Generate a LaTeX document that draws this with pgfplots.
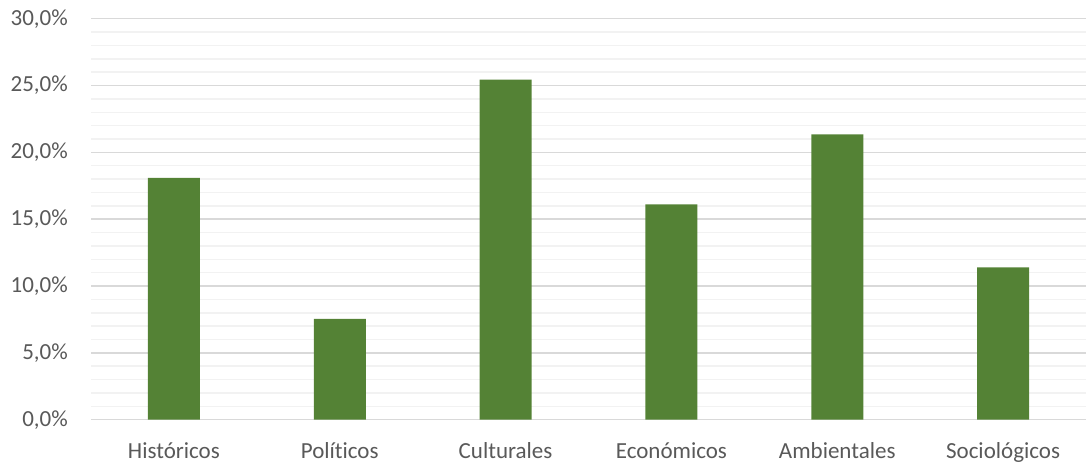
\documentclass[border=0pt]{standalone}
\usepackage{fontspec}
\setmainfont[Ligatures=NoCommon]{Carlito}
\usepackage{pgfplots}
\pgfplotsset{compat=1.18}
\definecolor{barg}{RGB}{84,130,53}
\definecolor{majg}{RGB}{217,217,217}
\definecolor{ming}{RGB}{242,242,242}
\definecolor{txt}{RGB}{89,89,89}
\begin{document}
\fontsize{23.1pt}{27pt}\selectfont
\begin{tikzpicture}[x=1bp,y=1bp]
\path[use as bounding box] (0,0) rectangle (1086,464);
\begin{axis}[
  at={(91bp,44.3bp)}, anchor=south west,
  scale only axis, width=995bp, height=401bp,
  xmin=-0.5, xmax=5.5, ymin=0, ymax=30,
  xtick={0,1,2,3,4,5},
  xticklabels={Históricos,Políticos,Culturales,Económicos,Ambientales,Sociológicos},
  ytick={0,5,10,15,20,25,30},
  yticklabels={{0,0\%},{5,0\%},{10,0\%},{15,0\%},{20,0\%},{25,0\%},{30,0\%}},
  minor ytick={1,2,3,4,6,7,8,9,11,12,13,14,16,17,18,19,21,22,23,24,26,27,28,29},
  ymajorgrids, yminorgrids,
  major grid style={draw=majg, line width=1.5bp},
  minor grid style={draw=ming, line width=1.5bp},
  axis line style={draw=none},
  major tick length=0pt, minor tick length=0pt,
  tick label style={text=txt, font=\fontsize{23.1pt}{27pt}\selectfont},
  yticklabel style={anchor=east, inner sep=0pt, xshift=-23bp},
  xticklabel style={anchor=base, inner sep=0pt, yshift=-39bp},
]
\addplot[ybar, bar width=52bp, fill=barg, draw=none] coordinates {
(0,18.1) (1,7.55) (2,25.45) (3,16.1) (4,21.35) (5,11.4)
};
\end{axis}
\end{tikzpicture}
\end{document}
